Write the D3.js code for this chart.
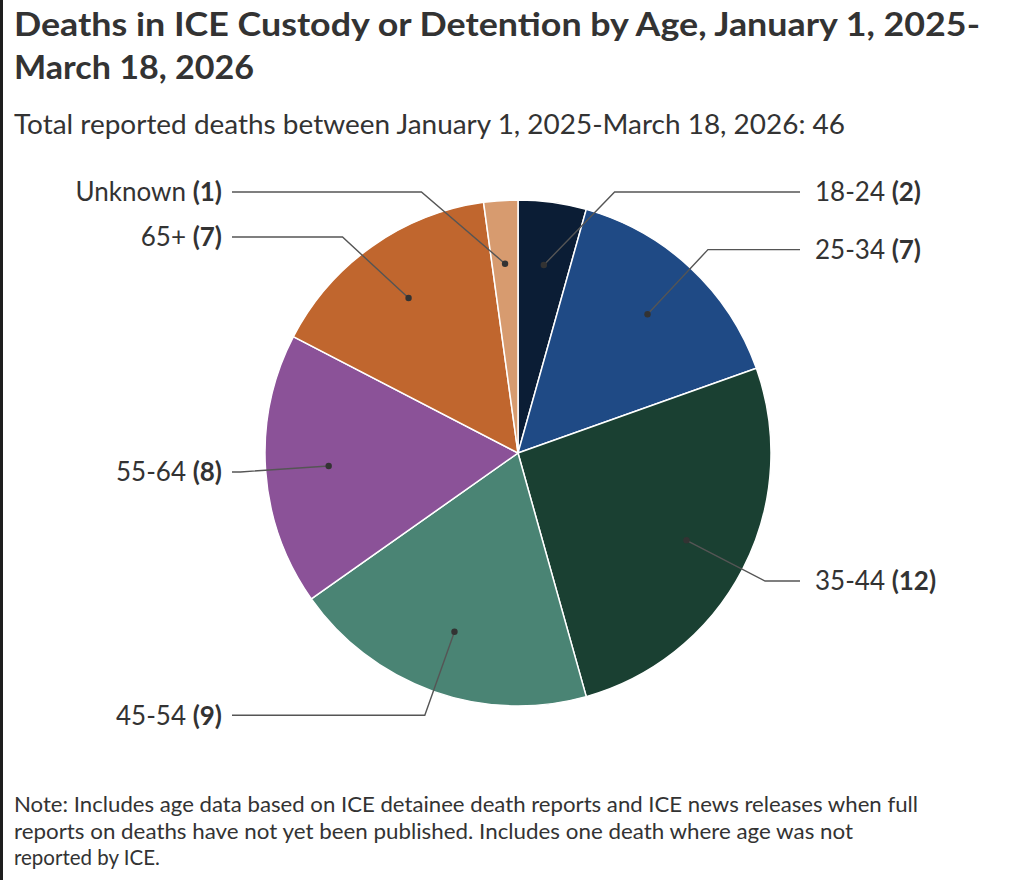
<!DOCTYPE html>
<html>
<head>
<meta charset="utf-8">
<script src="https://cdn.jsdelivr.net/npm/d3@7"></script>
<style>
  html, body { margin: 0; padding: 0; background: #fff; }
  svg { display: block; }
</style>
</head>
<body>
<script>
// ---- Data ----
const categories = ["18-24", "25-34", "35-44", "45-54", "55-64", "65+", "Unknown"];
const deaths = [2, 7, 12, 9, 8, 7, 1];
const colors = ["#0b1d35", "#1f4a85", "#1a4032", "#4a8474", "#8b5298", "#c0662e", "#d79b6f"];

const titleLines = ["Deaths in ICE Custody or Detention by Age, January 1, 2025-", "March 18, 2026"];
const subtitle = "Total reported deaths between January 1, 2025-March 18, 2026: 46";
const noteLines = [
  "Note: Includes age data based on ICE detainee death reports and ICE news releases when full",
  "reports on deaths have not yet been published. Includes one death where age was not",
  "reported by ICE."
];

const W = 1024, H = 880;
const svg = d3.select("body").append("svg").attr("width", W).attr("height", H);

// left frame edge
svg.append("rect").attr("x", 0).attr("y", 0).attr("width", 3).attr("height", H).attr("fill", "#1e1e1e");

const FONT = "Lato, 'Source Sans Pro', 'Noto Sans', sans-serif";

function fitText(sel, target) {
  sel.each(function() {
    const w = this.getComputedTextLength();
    if (target && Math.abs(w - target) > 1) {
      d3.select(this).attr("textLength", target).attr("lengthAdjust", "spacingAndGlyphs");
    }
  });
}

// Title
const titleWidths = [966, 240];
titleLines.forEach((t, i) => {
  svg.append("text").attr("x", 14).attr("y", 36 + i * 43)
    .attr("font-family", FONT).attr("font-weight", 700).attr("font-size", 31.5)
    .attr("fill", "#333").text(t).call(fitText, titleWidths[i]);
});

svg.append("text").attr("x", 14).attr("y", 134)
  .attr("font-family", FONT).attr("font-size", 27).attr("fill", "#333")
  .text(subtitle).call(fitText, 831);

const noteWidths = [904, 839, 146];
noteLines.forEach((t, i) => {
  svg.append("text").attr("x", 14).attr("y", 812 + i * 26.5)
    .attr("font-family", FONT).attr("font-size", 20.5).attr("fill", "#333")
    .text(t).call(fitText, noteWidths[i]);
});

// ---- Pie ----
const cx = 518, cy = 453, R = 253;
const data = categories.map((c, i) => ({ cat: c, value: deaths[i], color: colors[i] }));
const pie = d3.pie().value(d => d.value).sort(null);
const arcs = pie(data);
const arc = d3.arc().innerRadius(0).outerRadius(R);

const g = svg.append("g").attr("transform", `translate(${cx},${cy})`);
g.selectAll("path.slice").data(arcs).join("path")
  .attr("class", "slice")
  .attr("d", arc)
  .attr("fill", d => d.data.color)
  .attr("stroke", "#fff").attr("stroke-width", 1.5);

// Label layout
const dotR = R * 0.75, elbowR = R * 1.1;
const items = arcs.map(a => {
  const mid = (a.startAngle + a.endAngle) / 2;
  return {
    a, mid,
    side: Math.sin(mid) >= 0 ? 1 : -1,
    dx: Math.sin(mid) * dotR, dy: -Math.cos(mid) * dotR,
    y: -Math.cos(mid) * elbowR
  };
});
const minY = 192 - cy, gap = 45;
[1, -1].forEach(side => {
  const list = items.filter(d => d.side === side).sort((a, b) => a.y - b.y);
  let prev = -Infinity;
  list.forEach(d => {
    d.y = Math.max(d.y, minY, prev + gap);
    prev = d.y;
  });
});
items.forEach(d => {
  const ex = d.side * Math.sqrt(Math.max(0, elbowR * elbowR - d.y * d.y));
  d.ex = ex;
  d.lx = d.side > 0 ? 800 - cx : 232 - cx;
  d.tx = d.side > 0 ? 815 - cx : 222 - cx;
});

g.selectAll("polyline.leader").data(items).join("polyline")
  .attr("class", "leader")
  .attr("points", d => `${d.dx},${d.dy} ${d.ex},${d.y} ${d.lx},${d.y}`)
  .attr("fill", "none").attr("stroke", "#555").attr("stroke-width", 1.4);

g.selectAll("circle.dot").data(items).join("circle")
  .attr("class", "dot")
  .attr("cx", d => d.dx).attr("cy", d => d.dy).attr("r", 3.2)
  .attr("fill", "#333");

const lbl = g.selectAll("text.lbl").data(items).join("text")
  .attr("class", "lbl")
  .attr("x", d => d.tx).attr("y", d => d.y).attr("dy", "0.36em")
  .attr("text-anchor", d => d.side > 0 ? "start" : "end")
  .attr("font-family", FONT).attr("font-size", 26).attr("fill", "#333");
lbl.append("tspan").text(d => d.a.data.cat + " ");
lbl.append("tspan").attr("font-weight", 700).text(d => `(${d.a.data.value})`);
</script>
</body>
</html>
